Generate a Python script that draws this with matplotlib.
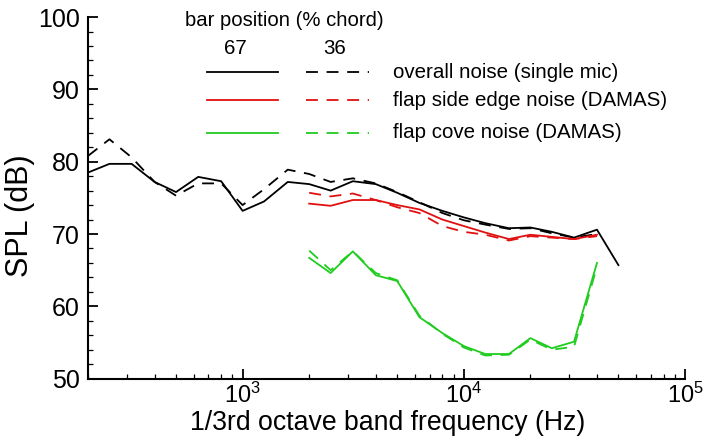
import numpy as np
import matplotlib
matplotlib.use("Agg")
import matplotlib.pyplot as plt
from matplotlib.lines import Line2D
from matplotlib.ticker import FixedLocator, FuncFormatter, MultipleLocator

plt.rcParams['font.family'] = ['Liberation Sans', 'DejaVu Sans']
plt.rcParams['mathtext.fontset'] = 'custom'
plt.rcParams['mathtext.rm'] = 'Liberation Sans'

# 1/3 octave band centre frequencies (Hz)
freq_overall = [200, 250, 315, 400, 500, 630, 800, 1000, 1250, 1600, 2000, 2500, 3150,
                4000, 5000, 6300, 8000, 10000, 12500, 16000, 20000, 25000, 31500, 40000, 50000]
overall_67 = [78.5, 79.7, 79.7, 77.2, 75.8, 77.9, 77.3, 73.2, 74.5, 77.2, 76.9, 76.0, 77.3,
              76.9, 75.7, 74.3, 73.2, 72.3, 71.5, 70.8, 70.9, 70.3, 69.5, 70.6, 65.7]
freq_overall_36 = [200, 250, 315, 400, 500, 630, 800, 1000, 1250, 1600, 2000, 2500, 3150,
                   4000, 5000, 6300, 8000, 10000, 12500, 16000, 20000, 25000, 31500, 40000]
overall_36 = [80.8, 83.1, 80.6, 77.2, 75.3, 77.0, 77.0, 74.0, 76.2, 78.9, 78.3, 77.2, 77.7,
              77.0, 75.8, 74.4, 72.9, 71.9, 71.3, 70.7, 70.8, 70.1, 69.5, 70.0]

freq_damas = [2000, 2500, 3150, 4000, 5000, 6300, 8000, 10000, 12500, 16000, 20000, 25000,
              31500, 40000]
side_67 = [74.2, 73.9, 74.7, 74.7, 74.0, 73.4, 72.0, 71.1, 70.2, 69.3, 69.9, 69.6, 69.3, 69.9]
side_36 = [75.7, 75.2, 75.6, 74.7, 73.7, 72.9, 71.1, 70.3, 69.9, 69.1, 69.7, 69.5, 69.3, 69.7]
cove_67 = [66.7, 64.6, 67.6, 64.3, 63.5, 58.5, 56.3, 54.5, 53.4, 53.4, 55.6, 54.2, 55.1, 66.0]
cove_36 = [67.7, 65.0, 67.6, 64.6, 63.6, 58.7, 56.2, 54.3, 53.2, 53.3, 55.4, 54.0, 54.4, 65.5]

bar_positions = ['67', '36']
legend_labels = ['overall noise (single mic)', 'flap side edge noise (DAMAS)',
                 'flap cove noise (DAMAS)']

BLACK = '#000000'
RED = '#e01010'
GREEN = '#20cc20'
LW = 1.3
DASH = (6.6, 4.8)

fig = plt.figure(figsize=(7.05, 4.44), dpi=100)
ax = fig.add_axes([88/705, 1-378.6/444, (685-88)/705, (378.6-17.1)/444])

ax.plot(freq_overall, overall_67, color=BLACK, lw=LW)
ax.plot(freq_overall_36, overall_36, color=BLACK, lw=LW, dashes=DASH)
ax.plot(freq_damas, side_67, color=RED, lw=LW)
ax.plot(freq_damas, side_36, color=RED, lw=LW, dashes=DASH)
ax.plot(freq_damas, cove_67, color=GREEN, lw=LW)
ax.plot(freq_damas, cove_36, color=GREEN, lw=LW, dashes=DASH)

ax.set_xscale('log')
ax.set_xlim(200, 1e5)
ax.set_ylim(50, 100)
ax.spines['top'].set_visible(False)
ax.spines['right'].set_visible(False)
for s in ['left', 'bottom']:
    ax.spines[s].set_linewidth(1.5)

ax.xaxis.set_major_locator(FixedLocator([1e3, 1e4, 1e5]))
ax.xaxis.set_major_formatter(FuncFormatter(lambda v, p: r'$\mathregular{10^{%d}}$' % int(round(np.log10(v)))))
ax.yaxis.set_major_locator(MultipleLocator(10))
ax.yaxis.set_minor_locator(MultipleLocator(2))
ax.tick_params(which='both', direction='in', width=1.3)
ax.tick_params(which='major', length=7, pad=6)
ax.tick_params(which='minor', length=3.6, width=0.9)
ax.tick_params(axis='y', which='major', labelsize=18, pad=6)
ax.tick_params(axis='x', which='major', labelsize=17, pad=3)

def fx(px):
    return px / 705

def fy(py):
    return 1 - py / 444

fig.text(fx(387.5), fy(430), '1/3rd octave band frequency (Hz)', fontsize=19.2,
         ha='center', va='baseline')
fig.text(fx(20), fy(216), 'SPL (dB)', fontsize=22, rotation=90, ha='center', va='center')

# legend drawn in figure pixel coordinates
fig.text(fx(185), fy(21), 'bar position (% chord)', fontsize=14.6, va='center', ha='left')
fig.text(fx(235), fy(48), bar_positions[0], fontsize=14.8, va='center', ha='center')
fig.text(fx(335), fy(48), bar_positions[1], fontsize=14.8, va='center', ha='center')
rows = [72, 100, 133]
cols = [BLACK, RED, GREEN]
for yy, c, lab in zip(rows, cols, legend_labels):
    fig.add_artist(Line2D([fx(207), fx(278)], [fy(yy), fy(yy)], color=c, lw=LW))
    fig.add_artist(Line2D([fx(306), fx(369)], [fy(yy), fy(yy)], color=c, lw=LW, dashes=DASH))
    fig.text(fx(393), fy(yy), lab, fontsize=14.8, va='center', ha='left')

fig.savefig('out.png', dpi=100)
